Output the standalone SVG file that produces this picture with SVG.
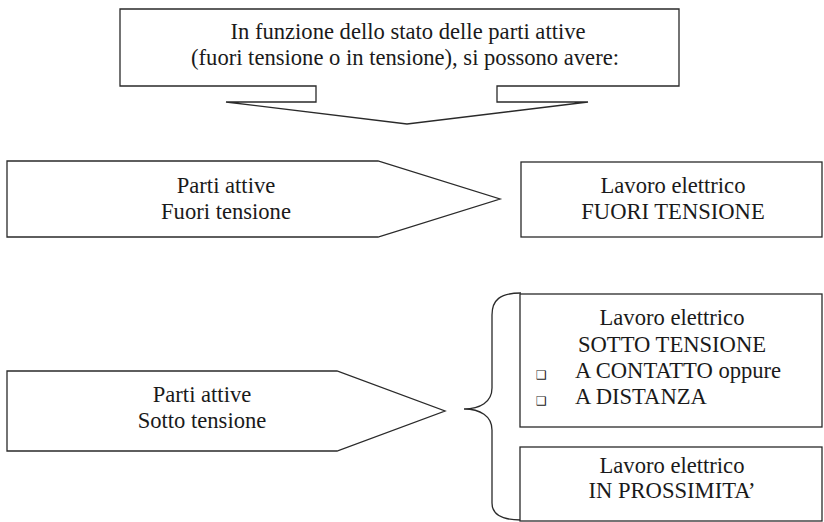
<svg xmlns="http://www.w3.org/2000/svg" width="824" height="522" viewBox="0 0 824 522">
<style>
.s{fill:#fff;stroke:#2a2a2a;stroke-width:1.3;stroke-linejoin:miter}
.t{font-family:"Liberation Serif","Times New Roman",serif;font-size:22.6px;fill:#1a1a1a;text-anchor:middle}
.l{font-family:"Liberation Serif","Times New Roman",serif;font-size:22.6px;fill:#1a1a1a}
.b{font-family:"DejaVu Sans",sans-serif;font-size:12px;fill:#1a1a1a}
</style>
<rect width="824" height="522" fill="#fff"/>
<g id="intro">
<path class="s" d="M120,9 H679 V86 H497 V102 H588 L407,124 L226,102 H316 V86 H120 Z"/>
<text class="t" x="408" y="39">In funzione dello stato delle parti attive</text>
<text class="t" x="405" y="65">(fuori tensione o in tensione), si possono avere:</text>
</g>
<g id="fuori">
<path class="s" d="M7,161 H378 L500,199 L378,237 H7 Z"/>
<text class="t" x="226" y="193">Parti attive</text>
<text class="t" x="226" y="219">Fuori tensione</text>
</g>
<g id="lavoro-fuori">
<rect class="s" x="521" y="162" width="301" height="75"/>
<text class="t" x="673" y="193">Lavoro elettrico</text>
<text class="t" x="673" y="219">FUORI TENSIONE</text>
</g>
<g id="sotto">
<path class="s" d="M7,371 H337 L445,411 L337,451 H7 Z"/>
<text class="t" x="202" y="402">Parti attive</text>
<text class="t" x="202" y="428">Sotto tensione</text>
</g>
<g id="connectors">
<path d="M521,293 C500,293 492,300 492,315 V388 C492,402 480,409 464,409 C480,409 492,416 492,430 V503 C492,514 500,520 521,520" fill="none" stroke="#2a2a2a" stroke-width="1.3"/>
</g>
<g id="lavoro-sotto">
<rect class="s" x="520" y="294" width="302" height="133"/>
<text class="t" x="672" y="325">Lavoro elettrico</text>
<text class="t" x="672" y="352">SOTTO TENSIONE</text>
<text class="b" x="536" y="379">❑</text>
<text class="l" x="575" y="378">A CONTATTO oppure</text>
<text class="b" x="536" y="405">❑</text>
<text class="l" x="575" y="404">A DISTANZA</text>
</g>
<g id="lavoro-prossimita">
<rect class="s" x="520" y="447" width="302" height="74"/>
<text class="t" x="672" y="473">Lavoro elettrico</text>
<text class="t" x="672" y="498">IN PROSSIMITA’</text>
</g>
</svg>
